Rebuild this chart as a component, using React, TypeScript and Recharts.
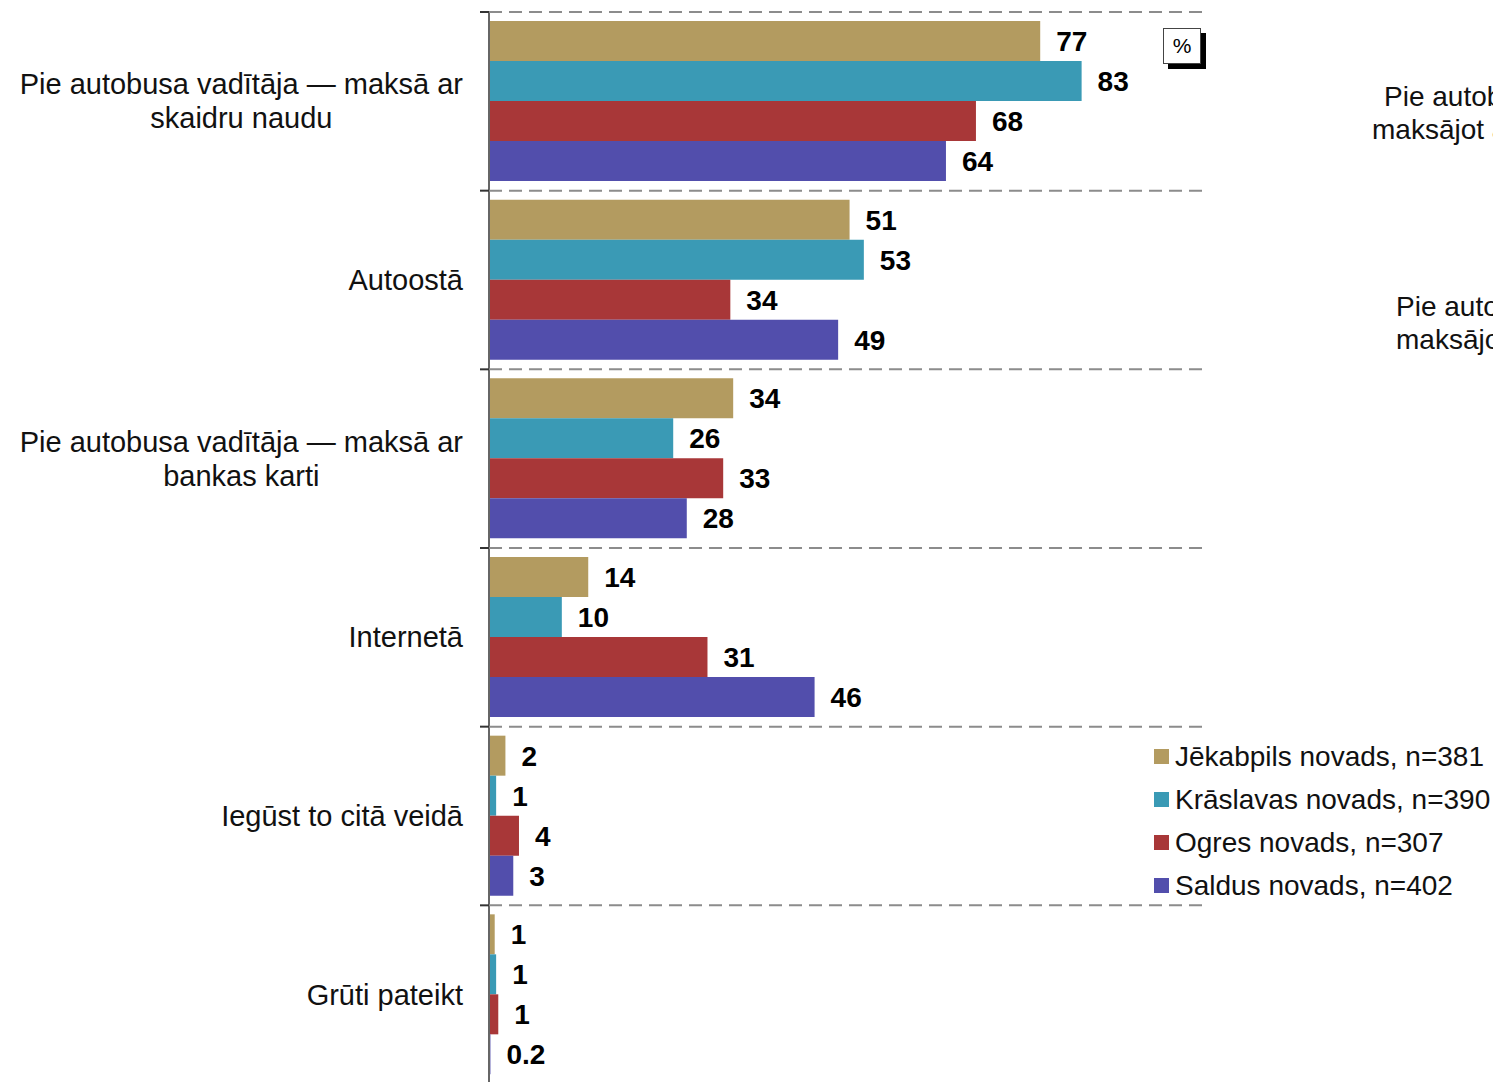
import React from "react";
import { Bar, BarChart, LabelList, Legend, XAxis, YAxis } from "recharts";

const categories = [
  ["Pie autobusa vadītāja — maksā ar", "skaidru naudu"],
  ["Autoostā"],
  ["Pie autobusa vadītāja — maksā ar", "bankas karti"],
  ["Internetā"],
  ["Iegūst to citā veidā"],
  ["Grūti pateikt"],
];

const jekabpils = [77.2, 50.5, 34.2, 13.9, 2.3, 0.8];
const kraslava = [83, 52.5, 25.8, 10.2, 1.0, 1.0];
const ogre = [68.2, 33.8, 32.8, 30.6, 4.2, 1.3];
const saldus = [64, 48.9, 27.7, 45.6, 3.4, 0.2];

const seriesNames = [
  "Jēkabpils novads, n=381",
  "Krāslavas novads, n=390",
  "Ogres novads, n=307",
  "Saldus novads, n=402",
];

const COLORS = ["#b39b60", "#3a9ab5", "#a83738", "#524eac"];

const FONT = "'Liberation Sans', Arial, sans-serif";

const W = 1493;
const H = 1100;
const MARGIN = { top: 12, right: 290, bottom: 16, left: 0 };
const AXIS_W = 489;
const PLOT_RIGHT = W - MARGIN.right;
const BAND = (H - MARGIN.top - MARGIN.bottom) / categories.length;

const data = categories.map((lines, i) => ({
  name: lines.join(" "),
  s0: jekabpils[i],
  s1: kraslava[i],
  s2: ogre[i],
  s3: saldus[i],
}));

let ctx: CanvasRenderingContext2D | null = null;
function textWidth(s: string): number {
  if (!ctx) ctx = document.createElement("canvas").getContext("2d");
  if (!ctx) return s.length * 14;
  ctx.font = `29px ${FONT}`;
  return ctx.measureText(s).width;
}

function fmt(v: unknown): string {
  const x = Number(v);
  return x >= 0.5 ? String(Math.round(x)) : x.toFixed(1);
}

// label + boundary tick + dashed separator above each category
function CategoryTick(props: any) {
  const { x, y, payload, index } = props;
  const half = payload && typeof payload.offset === "number" && payload.offset > 0 ? payload.offset : BAND / 2;
  const i = typeof index === "number" ? index : payload.index;
  const lines = categories[i] ?? [String(payload.value)];
  const maxW = Math.max(...lines.map(textWidth));
  const cx = x - maxW / 2;
  const lh = 34;
  const edges = [y - half];
  if (i === categories.length - 1) edges.push(y + half);
  return (
    <g>
      {edges.map((ey, k) => (
        <g key={k}>
          <line x1={AXIS_W} x2={PLOT_RIGHT} y1={ey} y2={ey} stroke="#8c8c8c" strokeWidth={2} strokeDasharray="13 7" />
          <line x1={AXIS_W - 9} x2={AXIS_W} y1={ey} y2={ey} stroke="#333" strokeWidth={2} />
        </g>
      ))}
      {lines.map((ln, k) => (
        <text
          key={k}
          x={cx}
          y={y + (k - (lines.length - 1) / 2) * lh}
          textAnchor="middle"
          dominantBaseline="central"
          fontSize={29}
          fontFamily={FONT}
          fill="#111"
        >
          {ln}
        </text>
      ))}
    </g>
  );
}

function LegendBox(props: any) {
  const payload = props.payload || [];
  return (
    <div style={{ fontFamily: FONT, fontSize: 28, color: "#111" }}>
      {payload.map((p: any, i: number) => (
        <div key={i} style={{ display: "flex", alignItems: "center", height: 43, whiteSpace: "nowrap" }}>
          <span style={{ width: 15, height: 15, background: p.color, marginRight: 6, display: "inline-block" }} />
          <span>{p.value}</span>
        </div>
      ))}
    </div>
  );
}

const sideText: React.CSSProperties = {
  position: "absolute",
  fontFamily: FONT,
  fontSize: 28,
  lineHeight: "34px",
  whiteSpace: "nowrap",
  color: "#111",
};

export default function App() {
  return (
    <div
      style={{
        position: "absolute",
        left: 0,
        top: 0,
        width: 1493,
        height: 1082,
        overflow: "hidden",
        background: "#fff",
      }}
    >
      <BarChart width={W} height={H} data={data} layout="vertical" barGap={0} margin={MARGIN}>
        <XAxis type="number" domain={[0, 100]} hide />
        <YAxis
          type="category"
          dataKey="name"
          width={AXIS_W}
          tickLine={false}
          axisLine={{ stroke: "#666", strokeWidth: 2 }}
          tickSize={18}
          tickMargin={8}
          tick={<CategoryTick />}
          interval={0}
        />
        <Legend
          layout="vertical"
          align="center"
          verticalAlign="middle"
          wrapperStyle={{ left: 1154, top: 735, width: 339 }}
          content={<LegendBox />}
        />
        {["s0", "s1", "s2", "s3"].map((k, i) => (
          <Bar key={k} dataKey={k} name={seriesNames[i]} fill={COLORS[i]} barSize={40} isAnimationActive={false}>
            <LabelList
              dataKey={k}
              position="right"
              offset={16}
              formatter={fmt}
              style={{ fontFamily: FONT, fontSize: 28, fontWeight: 700, fill: "#000" }}
            />
          </Bar>
        ))}
      </BarChart>
      <div
        style={{
          position: "absolute",
          left: 1163,
          top: 28,
          width: 36,
          height: 34,
          border: "1px solid #444",
          background: "#fff",
          boxShadow: "5px 5px 0 #000",
          fontFamily: FONT,
          fontSize: 21,
          textAlign: "center",
          lineHeight: "34px",
        }}
      >
        %
      </div>
      <div style={{ ...sideText, left: 1384, top: 80 }}>Pie autobusa vadītāja —</div>
      <div style={{ ...sideText, left: 1372, top: 113 }}>maksājot ar skaidru naudu</div>
      <div style={{ ...sideText, left: 1396, top: 290 }}>Pie autobusa vadītāja —</div>
      <div style={{ ...sideText, left: 1396, top: 323 }}>maksājot ar bankas karti</div>
    </div>
  );
}
